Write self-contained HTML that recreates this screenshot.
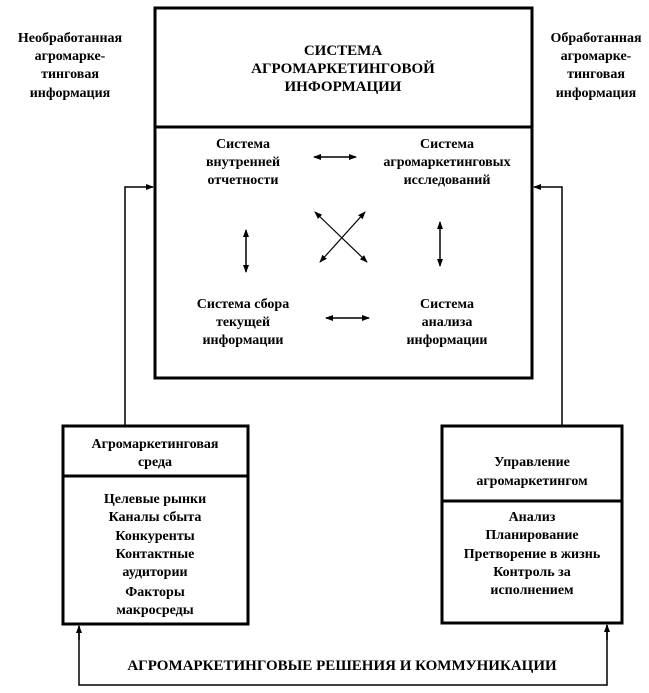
<!DOCTYPE html>
<html><head><meta charset="utf-8"><style>
body{margin:0;background:#fff;width:649px;height:688px;overflow:hidden}
svg text{font-family:"Liberation Serif","DejaVu Serif",serif;font-weight:bold;fill:#000;text-anchor:middle}
</style></head><body>
<svg width="649" height="688" viewBox="0 0 649 688" xmlns="http://www.w3.org/2000/svg">
<defs>
<marker id="a" markerWidth="8" markerHeight="8" refX="7" refY="4" orient="auto-start-reverse" markerUnits="userSpaceOnUse">
<path d="M0,1 L8,4 L0,7 Z" fill="#000"/></marker>
</defs>
<g fill="none" stroke="#000">
<rect x="155" y="8" width="377" height="370" stroke-width="3"/>
<line x1="155" y1="127" x2="532" y2="127" stroke-width="3"/>
<rect x="63" y="426" width="185" height="198" stroke-width="3"/>
<line x1="63" y1="476" x2="248" y2="476" stroke-width="3"/>
<rect x="442" y="426" width="180" height="197" stroke-width="3"/>
<line x1="442" y1="501" x2="622" y2="501" stroke-width="3"/>
<path d="M125,426 V187 H153" stroke-width="1.5" marker-end="url(#a)"/>
<path d="M562,426 V187 H534" stroke-width="1.5" marker-end="url(#a)"/>
<path d="M79,626 V685 H607 V625" stroke-width="1.5"/>
<path d="M79,640 V626" stroke-width="1.5" marker-end="url(#a)"/>
<path d="M607,640 V625" stroke-width="1.5" marker-end="url(#a)"/>
<line x1="314" y1="157" x2="356" y2="157" stroke-width="1.5" marker-start="url(#a)" marker-end="url(#a)"/>
<line x1="326" y1="318" x2="369" y2="318" stroke-width="1.5" marker-start="url(#a)" marker-end="url(#a)"/>
<line x1="246" y1="230" x2="246" y2="272" stroke-width="1.5" marker-start="url(#a)" marker-end="url(#a)"/>
<line x1="440" y1="222" x2="440" y2="266" stroke-width="1.5" marker-start="url(#a)" marker-end="url(#a)"/>
<line x1="315" y1="212" x2="367" y2="262" stroke-width="1.2" marker-start="url(#a)" marker-end="url(#a)"/>
<line x1="365" y1="212" x2="320" y2="262" stroke-width="1.2" marker-start="url(#a)" marker-end="url(#a)"/>
</g>
<g font-size="14">
<text x="70" y="42">Необработанная</text><text x="70" y="60">агромарке-</text><text x="70" y="78">тинговая</text><text x="70" y="97">информация</text>
<text x="596" y="42">Обработанная</text><text x="596" y="60">агромарке-</text><text x="596" y="78">тинговая</text><text x="596" y="97">информация</text>
</g>
<g font-size="15">
<text x="343" y="55">СИСТЕМА</text><text x="343" y="73">АГРОМАРКЕТИНГОВОЙ</text><text x="343" y="91">ИНФОРМАЦИИ</text>
</g>
<g font-size="14">
<text x="243" y="148">Система</text><text x="243" y="166">внутренней</text><text x="243" y="184">отчетности</text>
<text x="447" y="148">Система</text><text x="447" y="166">агромаркетинговых</text><text x="447" y="184">исследований</text>
<text x="243" y="308">Система сбора</text><text x="243" y="326">текущей</text><text x="243" y="344">информации</text>
<text x="447" y="308">Система</text><text x="447" y="326">анализа</text><text x="447" y="344">информации</text>
<text x="155" y="448">Агромаркетинговая</text><text x="155" y="466">среда</text>
<text x="155" y="503">Целевые рынки</text><text x="155" y="521">Каналы сбыта</text><text x="155" y="540">Конкуренты</text><text x="155" y="558">Контактные</text><text x="155" y="576">аудитории</text><text x="155" y="596">Факторы</text><text x="155" y="614">макросреды</text>
<text x="532" y="466">Управление</text><text x="532" y="485">агромаркетингом</text>
<text x="532" y="521">Анализ</text><text x="532" y="539">Планирование</text><text x="532" y="558">Претворение в жизнь</text><text x="532" y="576">Контроль за</text><text x="532" y="594">исполнением</text>
</g>
<text x="342" y="670" font-size="15">АГРОМАРКЕТИНГОВЫЕ РЕШЕНИЯ И КОММУНИКАЦИИ</text>
</svg>
</body></html>
